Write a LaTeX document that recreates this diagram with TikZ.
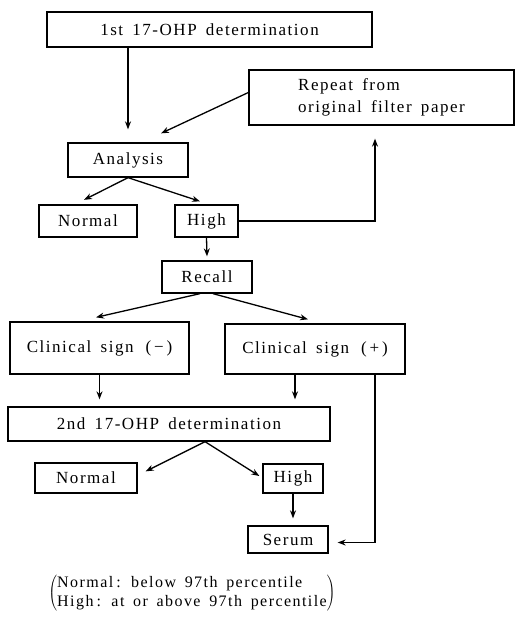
\documentclass[tikz,border=0pt]{standalone}
\usepackage{fontspec}
\setmainfont{Liberation Serif}[LetterSpace=9,WordSpace=1.6]
\usetikzlibrary{arrows.meta}
\begin{document}
\begin{tikzpicture}[x=1pt,y=-1pt,
 box/.style={draw,line width=1.3pt,inner sep=0pt,font=\fontsize{17}{22}\selectfont},
 arr/.style={line width=1.3pt,-{Stealth[length=8pt,width=6pt]}},
 ln/.style={line width=1.3pt}]
\useasboundingbox (0,0) rectangle (515,623);
\node[box,minimum width=325,minimum height=35] (b1) at (209.5,29.5) {1st 17-OHP determination};
\node[box,minimum width=265,minimum height=55,align=left] (rep) at (381.5,97.5) {Repeat from\\original filter paper};
\node[box,minimum width=120,minimum height=34] (ana) at (128,160) {Analysis};
\node[box,minimum width=98,minimum height=32] (n1) at (88,221) {Normal};
\node[box,minimum width=63,minimum height=32] (h1) at (206.5,221) {High};
\node[box,minimum width=90,minimum height=32] (rec) at (207,277) {Recall};
\node[box,minimum width=179,minimum height=52] (cm) at (99.5,348) {Clinical sign \,(\,−\,)};
\node[box,minimum width=180,minimum height=50] (cp) at (315,349) {Clinical sign \,(\,+\,)};
\node[box,minimum width=322,minimum height=34] (d2) at (169,424) {2nd 17-OHP determination};
\node[box,minimum width=102,minimum height=30] (n2) at (86,478) {Normal};
\node[box,minimum width=60,minimum height=29] (h2) at (293,478.5) {High};
\node[box,minimum width=80,minimum height=27] (se) at (288,539.5) {Serum};
\node[font=\fontsize{16}{19}\selectfont,inner sep=0pt] (fn) at (192,593)
 {$\left(\mbox{\begin{tabular}{@{}l@{}}Normal\hspace{3pt}: below 97th percentile\quad\ \\High\hspace{3pt}: at or above 97th percentile\end{tabular}}\right)$};
% connectors
\draw[arr] (b1.south -| ana.north) -- ([yshift=13pt]ana.north);
\draw[arr] ([yshift=5pt]rep.west) -- ([xshift=33pt,yshift=9pt]ana.north);
\draw[arr] (ana.south) -- ([xshift=-4pt,yshift=4.5pt]n1.north);
\draw[arr] (ana.south) -- ([xshift=-6.5pt,yshift=3pt]h1.north);
\draw[arr] (h1.east) -| ([xshift=-6.5pt,yshift=-13pt]rep.south);
\draw[arr] (h1.south) -- ([yshift=4pt]rec.north);
\draw[arr] ([xshift=-7pt]rec.south) -- ([xshift=-3.5pt,yshift=4pt]cm.north);
\draw[arr] ([xshift=6pt]rec.south) -- ([xshift=-7pt,yshift=4pt]cp.north);
\draw[arr] (cm.south) -- ([yshift=7pt]cm.south |- d2.north);
\draw[arr] ([xshift=-20pt]cp.south) -- ([xshift=-20pt,yshift=7pt]cp.south |- d2.north);
\draw[arr] ([xshift=60pt]cp.south) |- ([xshift=9pt,yshift=-3pt]se.east);
\draw[arr] ([xshift=36pt]d2.south) -- ([xshift=8pt,yshift=-9pt]n2.north east);
\draw[arr] ([xshift=36pt]d2.south) -- ([xshift=-3pt,yshift=2.5pt]h2.west);
\draw[arr] (h2.south) -- ([yshift=7pt]h2.south |- se.north);
\end{tikzpicture}
\end{document}
